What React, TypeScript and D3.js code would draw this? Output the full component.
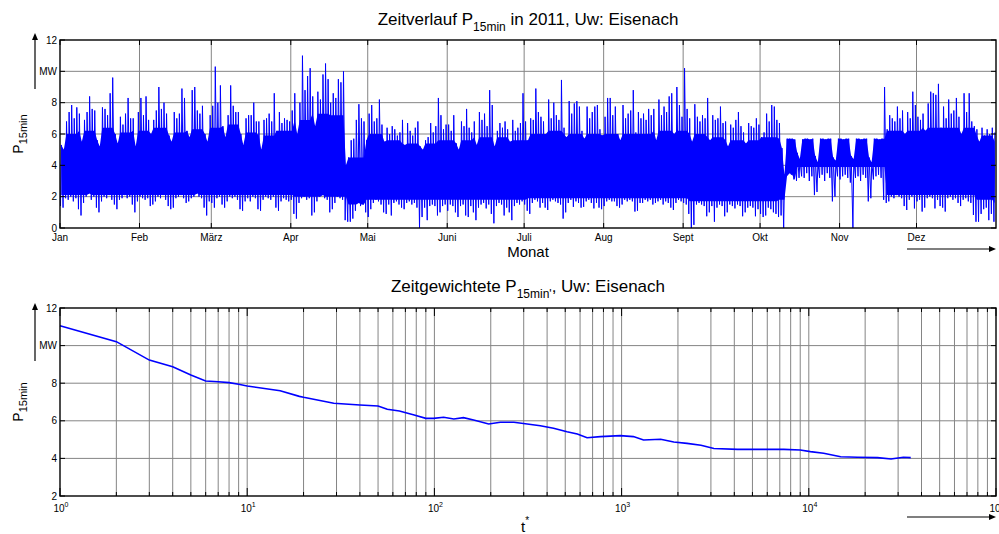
import * as d3 from "d3";

// month axis of the upper plot
const months = ["Jan", "Feb", "März", "Apr", "Mai", "Juni", "Juli", "Aug", "Sept", "Okt", "Nov", "Dez"];
const monthDays = [31, 28, 31, 30, 31, 30, 31, 31, 30, 31, 30, 31];

// daily max / min of P15min in MW
const janMax = [5.3, 5.0, 6.8, 7.4, 7.85, 7.0, 7.7, 7.3, 5.5, 6.9, 7.4, 8.4, 7.6, 7.5, 5.6, 5.2, 7.7, 7.6, 7.2, 8.6, 9.6, 6.0, 5.4, 7.1, 6.6, 7.3, 8.3, 7.0, 7.0, 5.2, 7.4];
const janMin = [1.4, 1.3, 1.9, 1.8, 2.0, 1.7, 1.9, 1.2, 0.8, 1.6, 2.0, 2.2, 1.8, 2.0, 1.3, 1.0, 1.7, 2.0, 1.9, 2.1, 1.8, 1.5, 1.2, 1.8, 1.9, 2.1, 1.9, 2.0, 1.5, 1.0, 1.7];
const febMax = [8.3, 7.2, 8.4, 6.9, 6.0, 6.9, 7.5, 9.0, 7.6, 8.0, 7.3, 5.9, 5.5, 7.4, 7.0, 7.3, 8.9, 8.3, 6.2, 5.8, 8.8, 9.0, 7.5, 7.3, 7.8, 6.0, 5.5, 7.2];
const febMin = [2.0, 1.9, 1.8, 1.9, 1.4, 1.5, 1.7, 2.0, 1.9, 2.1, 1.8, 1.4, 1.2, 1.3, 1.9, 2.0, 2.1, 1.9, 1.6, 1.7, 1.9, 2.0, 2.2, 2.0, 1.9, 1.3, 0.8, 1.7];
const marMax = [7.8, 10.3, 8.0, 9.1, 6.5, 5.8, 7.2, 9.1, 7.8, 7.4, 7.4, 6.0, 5.3, 7.0, 7.2, 7.2, 8.0, 6.8, 6.8, 5.0, 6.9, 7.0, 7.3, 6.8, 8.6, 6.2, 7.4, 6.7, 7.0, 6.9, 6.8];
const marMin = [1.6, 1.3, 1.9, 2.0, 1.5, 1.3, 1.7, 2.0, 1.9, 2.0, 1.8, 1.2, 1.1, 1.7, 1.9, 1.7, 2.0, 1.9, 1.2, 1.1, 1.8, 2.0, 1.9, 1.8, 2.0, 1.3, 1.1, 1.7, 1.9, 1.8, 1.7];
const aprMax = [7.5, 8.6, 6.0, 8.0, 11.0, 8.8, 9.7, 10.2, 8.4, 6.5, 8.7, 8.2, 9.8, 10.5, 9.5, 8.0, 8.6, 8.3, 9.5, 9.3, 10.0, 4.0, 4.5, 5.6, 5.7, 6.9, 7.9, 7.0, 6.8, 5.6];
const aprMin = [1.8, 0.9, 0.6, 1.6, 1.9, 2.0, 1.8, 1.9, 0.8, 1.0, 1.7, 2.0, 2.1, 1.9, 1.8, 1.0, 1.2, 1.6, 2.0, 1.9, 1.8, 0.5, 0.4, 0.4, 0.6, 1.1, 1.6, 1.4, 1.5, 1.0];
const mayMax = [7.3, 7.85, 6.8, 7.0, 8.2, 6.6, 5.5, 6.4, 6.0, 6.5, 6.3, 5.9, 6.1, 6.9, 5.3, 6.7, 6.2, 5.9, 6.4, 6.8, 5.2, 5.0, 5.6, 5.8, 6.7, 6.1, 6.5, 8.3, 7.2, 6.3, 6.6];
const mayMin = [0.7, 1.2, 1.6, 1.8, 1.7, 1.5, 1.0, 0.9, 1.5, 0.8, 1.6, 1.7, 1.5, 1.3, 1.2, 1.6, 1.7, 1.5, 1.6, 1.3, 0.0, 0.7, 1.3, 0.5, 1.4, 1.5, 1.4, 0.8, 1.0, 1.4, 1.5];
const junMax = [6.6, 6.2, 7.2, 5.4, 5.0, 6.8, 6.5, 7.6, 6.4, 6.1, 6.8, 5.3, 7.4, 6.9, 7.3, 6.5, 8.8, 7.85, 5.2, 6.2, 6.7, 6.4, 6.8, 6.3, 5.5, 6.9, 6.2, 6.4, 6.7, 8.6];
const junMin = [1.1, 1.5, 1.4, 1.0, 0.7, 1.4, 1.5, 0.8, 0.7, 1.4, 1.0, 0.5, 1.3, 1.5, 1.6, 1.25, 1.5, 0.9, 0.3, 1.4, 1.6, 1.5, 0.8, 1.3, 1.0, 0.5, 1.4, 1.6, 1.5, 1.7];
const julMax = [6.8, 5.6, 7.0, 6.9, 8.9, 7.4, 7.1, 6.8, 6.0, 8.2, 7.0, 8.0, 7.2, 6.9, 9.45, 6.4, 5.8, 8.1, 7.3, 7.95, 8.1, 7.75, 6.2, 5.7, 7.75, 7.0, 7.4, 7.75, 7.85, 6.3, 5.9];
const julMin = [1.5, 1.1, 0.9, 1.6, 1.8, 1.7, 1.3, 1.6, 1.3, 1.15, 1.7, 1.8, 1.7, 1.6, 1.5, 0.6, 1.0, 1.6, 1.8, 1.35, 1.7, 1.6, 1.3, 1.35, 1.7, 1.8, 1.6, 1.25, 1.6, 1.3, 1.2];
const augMax = [7.1, 8.3, 8.3, 7.2, 7.75, 6.0, 5.6, 7.85, 7.0, 7.3, 7.5, 8.8, 6.1, 7.4, 7.0, 7.3, 6.9, 7.6, 7.2, 7.6, 5.6, 8.2, 7.2, 7.75, 7.4, 8.4, 8.6, 6.0, 9.0, 7.85, 7.1];
const augMin = [1.4, 1.7, 1.8, 1.7, 1.7, 1.4, 1.3, 1.5, 1.8, 1.7, 1.8, 1.7, 1.05, 1.1, 1.6, 1.6, 1.8, 1.7, 1.8, 1.5, 1.6, 1.7, 1.8, 1.5, 1.7, 1.6, 1.3, 1.15, 1.6, 1.8, 1.7];
const sepMax = [10.2, 7.6, 7.0, 5.5, 7.9, 7.1, 6.8, 7.2, 7.0, 8.3, 5.6, 7.2, 6.9, 7.0, 7.75, 6.7, 6.8, 5.2, 6.6, 6.4, 6.9, 7.4, 6.5, 6.1, 5.4, 6.7, 6.5, 6.4, 7.0, 6.6];
const sepMin = [1.6, 1.5, 0.9, 0.0, 0.2, 1.5, 1.6, 1.5, 1.4, 0.75, 1.0, 1.4, 0.4, 1.3, 1.5, 1.4, 0.75, 1.0, 1.5, 1.4, 1.25, 1.5, 1.4, 0.75, 1.0, 1.3, 1.4, 1.3, 0.75, 1.2];
const octMax = [5.8, 6.1, 7.3, 6.8, 7.85, 7.75, 6.9, 6.7, 5.1, 3.4, 5.7, 5.7, 5.7, 5.65, 4.8, 4.4, 5.65, 5.7, 5.7, 5.65, 5.7, 4.6, 4.2, 5.7, 5.7, 5.65, 5.7, 5.7, 4.5, 4.3, 5.7];
const octMin = [0.9, 0.7, 0.8, 1.3, 1.2, 1.0, 0.9, 0.7, 0.8, 0.0, 3.3, 3.5, 3.4, 3.1, 3.0, 3.2, 3.3, 3.2, 3.5, 3.0, 3.3, 2.1, 2.3, 3.2, 3.4, 3.0, 3.5, 3.2, 1.7, 2.0, 3.3];
const novMax = [5.7, 5.65, 5.7, 5.7, 4.6, 4.4, 5.7, 5.7, 5.65, 5.7, 5.7, 4.5, 4.2, 5.7, 5.7, 5.65, 5.7, 9.0, 6.3, 7.2, 7.0, 6.8, 7.75, 7.0, 7.5, 6.0, 7.4, 7.0, 8.7, 7.85];
const novMin = [3.1, 3.3, 3.4, 3.2, 2.9, 0.0, 3.2, 3.3, 3.0, 3.4, 3.2, 1.7, 1.9, 3.1, 3.3, 3.4, 3.2, 1.8, 1.6, 1.7, 2.0, 1.9, 2.1, 2.0, 1.9, 1.4, 1.15, 1.8, 2.0, 1.25];
const decMax = [7.1, 6.9, 7.3, 6.2, 7.95, 8.7, 8.6, 8.5, 9.2, 6.4, 7.75, 7.0, 8.2, 7.3, 7.5, 8.3, 7.1, 6.0, 8.6, 7.4, 8.6, 6.8, 6.5, 6.3, 5.5, 6.4, 5.9, 6.3, 6.0, 6.4, 6.1];
const decMin = [1.7, 1.8, 1.05, 1.3, 1.9, 2.0, 1.9, 1.25, 1.8, 1.4, 1.3, 1.05, 1.9, 2.0, 1.8, 1.9, 1.6, 1.4, 1.8, 1.9, 1.7, 1.6, 0.83, 0.4, 0.4, 0.9, 1.2, 1.3, 0.5, 0.9, 0.4];

// weekly edges of the dense (solid) part of the trace, MW
const weekBandLow = [2.1, 2.1, 2.1, 2.1, 2.1, 2.1, 2.1, 2.1, 2.1, 2.1, 2.1, 2.1, 2.1, 2.0, 2.0, 2.0, 1.5, 1.8, 1.8, 1.8, 1.8, 1.8, 1.8, 1.8, 1.8, 1.8, 1.9, 1.9, 1.9, 1.9, 1.9, 1.9, 1.9, 1.9, 1.9, 1.7, 1.7, 1.7, 1.7, 1.7, 1.8, 3.9, 3.9, 3.9, 3.9, 3.9, 2.1, 2.1, 2.1, 2.1, 2.1, 1.8, 1.6];
const weekBandHigh = [6.0, 6.2, 6.4, 6.1, 6.2, 6.4, 6.1, 6.3, 6.4, 6.6, 6.1, 5.9, 6.2, 6.9, 7.3, 7.2, 4.5, 6.0, 5.6, 5.4, 5.4, 5.6, 5.6, 5.8, 5.8, 5.6, 6.0, 6.2, 6.0, 6.0, 6.0, 6.0, 6.0, 6.2, 6.2, 6.0, 5.8, 5.6, 5.6, 5.8, 5.7, 5.7, 5.7, 5.7, 5.7, 5.7, 6.2, 6.2, 6.4, 6.4, 6.4, 5.9, 5.5];

const dailyMax = [...janMax, ...febMax, ...marMax, ...aprMax, ...mayMax, ...junMax, ...julMax, ...augMax, ...sepMax, ...octMax, ...novMax, ...decMax];
const dailyMin = [...janMin, ...febMin, ...marMin, ...aprMin, ...mayMin, ...junMin, ...julMin, ...augMin, ...sepMin, ...octMin, ...novMin, ...decMin];

// time weighted curve (lower plot)
const tStar = [1, 2, 3, 4, 5, 6, 7, 8, 9, 10, 15, 19, 20, 29, 40, 50, 56, 65, 78, 90, 99, 112, 127, 143, 162, 195, 225, 266, 313, 368, 433, 511, 580, 654, 770, 983, 1156, 1310, 1617, 1900, 2236, 2654, 3113, 4166, 5500, 7350, 9000, 10200, 12000, 14800, 18200, 23300, 27500, 32000, 35040];
const pWeighted = [11.06, 10.21, 9.23, 8.88, 8.44, 8.12, 8.08, 8.03, 7.94, 7.85, 7.6, 7.3, 7.25, 6.93, 6.84, 6.79, 6.61, 6.52, 6.31, 6.13, 6.13, 6.19, 6.1, 6.17, 6.04, 5.83, 5.92, 5.92, 5.83, 5.74, 5.6, 5.42, 5.3, 5.1, 5.16, 5.21, 5.16, 4.98, 5.02, 4.87, 4.8, 4.7, 4.53, 4.48, 4.48, 4.48, 4.45, 4.36, 4.27, 4.09, 4.06, 4.04, 3.97, 4.06, 4.04];

const yTicks1 = [0, 2, 4, 6, 8, 10, 12];
const yTicks2 = [2, 4, 6, 8, 10, 12];
const decades = [1, 10, 100, 1000, 10000, 100000];

const W = 999;
const H = 534;
const L = 60;
const R = 996;
const T1 = 40;
const B1 = 228;
const T2 = 308;
const B2 = 496;
const font = "'Liberation Sans', Arial, sans-serif";
const grid = "#858585";
const blue = "#0000ff";

function YArrow({ x, y0, y1 }: { x: number; y0: number; y1: number }) {
  return (
    <g>
      <line x1={x} x2={x} y1={y0} y2={y1 + 6} stroke="#000" strokeWidth={1.2} />
      <path d={`M${x},${y1} L${x - 3},${y1 + 7} L${x + 3},${y1 + 7} Z`} fill="#000" />
    </g>
  );
}

function XArrow({ x0, x1, y }: { x0: number; x1: number; y: number }) {
  return (
    <g>
      <line x1={x0} x2={x1 - 6} y1={y} y2={y} stroke="#000" strokeWidth={1.2} />
      <path d={`M${x1},${y} L${x1 - 7},${y - 3} L${x1 - 7},${y + 3} Z`} fill="#000" />
    </g>
  );
}

export default function App() {
  const xDay = d3.scaleLinear().domain([0, 365]).range([L, R]);
  const y1 = d3.scaleLinear().domain([0, 12]).range([B1, T1]);
  const xLog = d3.scaleLog().domain([1, 1e5]).range([L, R]);
  const y2 = d3.scaleLinear().domain([2, 12]).range([B2, T2]);

  const monthStarts = months.map((_, i) => d3.sum(monthDays.slice(0, i)));
  const days = d3.range(dailyMax.length);

  // dense core of the trace: weekly band, never beyond the day's own low/high
  const band = d3
    .area<number>()
    .x((d) => xDay(d + 0.5))
    .y0((d) => y1(Math.max(dailyMin[d], weekBandLow[Math.floor(d / 7)])))
    .y1((d) => y1(Math.min(dailyMax[d], weekBandHigh[Math.floor(d / 7)])));
  // needles: zigzag between each day's low and high
  const trace: [number, number][] = dailyMin.flatMap((lo, i) => [
    [i + 0.2, lo] as [number, number],
    [i + 0.55, dailyMax[i]] as [number, number],
  ]);
  const line1 = d3.line<[number, number]>().x((d) => xDay(d[0])).y((d) => y1(d[1]));
  const line2 = d3.line<number>().x((_, i) => xLog(tStar[i])).y((d) => y2(d));

  const logTicks = xLog.ticks();

  return (
    <svg
      width={W}
      height={H}
      style={{ position: "absolute", left: 0, top: 0, background: "#fff" }}
      fontFamily={font}
    >
      <rect width={W} height={H} fill="#fff" />

      {/* ---------- upper plot ---------- */}
      <text x={528} y={25} textAnchor="middle" fontSize={17}>
        {"Zeitverlauf P"}
        <tspan fontSize={12} dy={6}>15min</tspan>
        <tspan dy={-6}>{" in 2011, Uw: Eisenach"}</tspan>
      </text>

      {yTicks1.slice(1, -1).map((v) => (
        <line key={"gy1" + v} x1={L} x2={R} y1={y1(v)} y2={y1(v)} stroke={grid} strokeWidth={1} />
      ))}
      {monthStarts.slice(1).map((d) => (
        <line key={"gx1" + d} x1={xDay(d)} x2={xDay(d)} y1={T1} y2={B1} stroke={grid} strokeWidth={1} />
      ))}

      <path d={band(days) ?? ""} fill={blue} stroke="none" />
      <path d={line1(trace) ?? ""} fill="none" stroke={blue} strokeWidth={1} />

      <rect x={L} y={T1} width={R - L} height={B1 - T1} fill="none" stroke="#000" strokeWidth={1.4} />
      {yTicks1.map((v) => (
        <g key={"ty1" + v}>
          <line x1={L} x2={L + 5} y1={y1(v)} y2={y1(v)} stroke="#000" />
          <line x1={R} x2={R - 5} y1={y1(v)} y2={y1(v)} stroke="#000" />
          <text x={57} y={y1(v)} dy="0.35em" textAnchor="end" fontSize={10}>
            {v === 10 ? "MW" : v}
          </text>
        </g>
      ))}
      {monthStarts.map((d, i) => (
        <g key={"tx1" + d}>
          <line x1={xDay(d)} x2={xDay(d)} y1={B1} y2={B1 - 5} stroke="#000" />
          <line x1={xDay(d)} x2={xDay(d)} y1={T1} y2={T1 + 5} stroke="#000" />
          <text x={xDay(d)} y={241} textAnchor="middle" fontSize={10}>
            {months[i]}
          </text>
        </g>
      ))}
      <text x={528} y={257} textAnchor="middle" fontSize={15}>Monat</text>
      <text transform={`translate(23,${(T1 + B1) / 2}) rotate(-90)`} textAnchor="middle" fontSize={14}>
        {"P"}
        <tspan fontSize={11} dy={4}>15min</tspan>
      </text>
      <YArrow x={35} y0={89} y1={33} />
      <XArrow x0={907} x1={996} y={249} />

      {/* ---------- lower plot ---------- */}
      <text x={528} y={292} textAnchor="middle" fontSize={17}>
        {"Zeitgewichtete P"}
        <tspan fontSize={12} dy={6}>15min'</tspan>
        <tspan dy={-6}>{", Uw: Eisenach"}</tspan>
      </text>

      {yTicks2.slice(1, -1).map((v) => (
        <line key={"gy2" + v} x1={L} x2={R} y1={y2(v)} y2={y2(v)} stroke={grid} strokeWidth={1} />
      ))}
      {logTicks.slice(1, -1).map((t) => (
        <line key={"gx2" + t} x1={xLog(t)} x2={xLog(t)} y1={T2} y2={B2} stroke={grid} strokeWidth={1} />
      ))}

      <path d={line2(pWeighted) ?? ""} fill="none" stroke={blue} strokeWidth={1.6} />

      <rect x={L} y={T2} width={R - L} height={B2 - T2} fill="none" stroke="#000" strokeWidth={1.4} />
      {yTicks2.map((v) => (
        <g key={"ty2" + v}>
          <line x1={L} x2={L + 5} y1={y2(v)} y2={y2(v)} stroke="#000" />
          <line x1={R} x2={R - 5} y1={y2(v)} y2={y2(v)} stroke="#000" />
          <text x={57} y={y2(v)} dy="0.35em" textAnchor="end" fontSize={10}>
            {v === 10 ? "MW" : v}
          </text>
        </g>
      ))}
      {logTicks.map((t) => {
        const major = decades.includes(t);
        const len = major ? 8 : 4;
        return (
          <g key={"tx2" + t}>
            <line x1={xLog(t)} x2={xLog(t)} y1={B2} y2={B2 - len} stroke="#000" />
            <line x1={xLog(t)} x2={xLog(t)} y1={T2} y2={T2 + len} stroke="#000" />
          </g>
        );
      })}
      {decades.map((t) => (
        <text key={"lx2" + t} x={xLog(t) + 1} y={511.5} textAnchor="middle" fontSize={10}>
          {"10"}
          <tspan fontSize={7} dy={-5}>{Math.round(Math.log10(t))}</tspan>
        </text>
      ))}
      <text x={525} y={532} textAnchor="middle" fontSize={15}>
        {"t"}
        <tspan fontSize={10} dy={-8}>*</tspan>
      </text>
      <text transform={`translate(23,${(T2 + B2) / 2}) rotate(-90)`} textAnchor="middle" fontSize={14}>
        {"P"}
        <tspan fontSize={11} dy={4}>15min</tspan>
      </text>
      <YArrow x={35} y0={361} y1={303} />
      <XArrow x0={907} x1={996} y={517} />
    </svg>
  );
}
